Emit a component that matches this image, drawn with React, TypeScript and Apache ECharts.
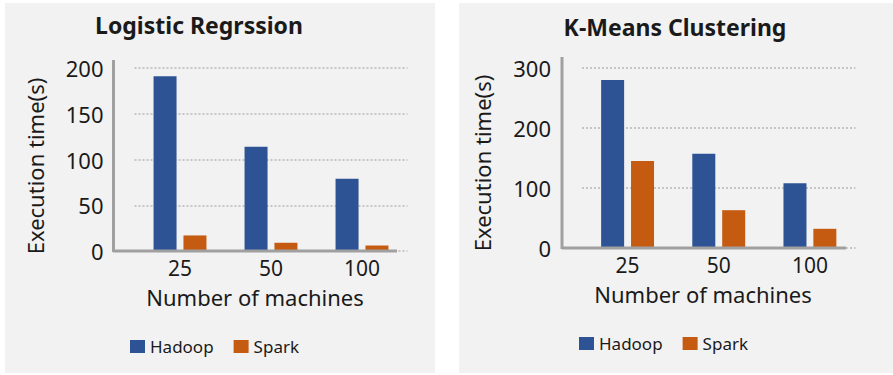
import React, { useEffect, useRef } from "react";
import * as echarts from "echarts";

const categories = ["25", "50", "100"];
const lrHadoop = [191, 114, 79];
const lrSpark = [17, 9, 6];
const kmHadoop = [280, 157, 108];
const kmSpark = [145, 63, 32];
const lrTicks = { min: 0, max: 200, interval: 50 };
const kmTicks = { min: 0, max: 300, interval: 100 };

const FONT = "'Noto Sans', sans-serif";
const BLUE = "#2e5395";
const ORANGE = "#c55a11";
const TXT = "#1a1a1a";
const AXIS = "#a0a0a0";

export default function App() {
  const ref = useRef<HTMLDivElement>(null);
  useEffect(() => {
    if (!ref.current) return;
    const chart = echarts.init(ref.current, undefined, { renderer: "svg" });
    const yAxisBase = (t: any, gi: number) => ({
      type: "value",
      gridIndex: gi,
      min: t.min,
      max: t.max,
      interval: t.interval,
      axisLine: { show: false },
      axisTick: { show: false },
      axisLabel: { color: TXT, fontSize: 22, fontFamily: FONT, margin: 31 },
      splitLine: { show: true, lineStyle: { color: "#b8b8b8", type: [2, 2], width: 1.5 } },
    });
    const xAxisBase = (gi: number) => ({
      type: "category",
      gridIndex: gi,
      data: categories,
      axisLine: { show: false },
      axisTick: { show: false },
      axisLabel: { color: TXT, fontSize: 21, fontFamily: FONT, margin: 6, lineHeight: 21 },
    });
    const bar = (name: string, data: number[], color: string, gi: number) => ({
      type: "bar",
      name,
      data,
      xAxisIndex: gi,
      yAxisIndex: gi,
      barWidth: 23,
      barGap: "30%",
      itemStyle: { color },
    });
    const txt = (text: string, x: number, y: number, size: number, opts: any = {}) => ({
      type: "text",
      x,
      y,
      rotation: opts.rotation || 0,
      z: 10,
      style: {
        text,
        fill: TXT,
        font: `${opts.bold ? "bold " : ""}${size}px ${FONT}`,
        align: "center",
        verticalAlign: "middle",
      },
    });
    const line = (x1: number, y1: number, x2: number, y2: number) => ({
      type: "line",
      z: 5,
      shape: { x1, y1, x2, y2 },
      style: { stroke: AXIS, lineWidth: 3 },
    });
    const legend = (left: number, top: number) => ({
      left,
      top,
      itemWidth: 15,
      itemHeight: 13,
      itemGap: 20,
      icon: "rect",
      data: ["Hadoop", "Spark"],
      textStyle: { color: TXT, fontSize: 17, fontFamily: FONT },
    });
    chart.setOption({
      animation: false,
      backgroundColor: "#ffffff",
      grid: [
        { left: 134.5, width: 273, top: 68, height: 183 },
        { left: 582, width: 273.5, top: 68, height: 180 },
      ],
      xAxis: [xAxisBase(0), xAxisBase(1)],
      yAxis: [yAxisBase(lrTicks, 0), yAxisBase(kmTicks, 1)],
      legend: [legend(125, 333), legend(574, 330)],
      series: [
        bar("Hadoop", lrHadoop, BLUE, 0),
        bar("Spark", lrSpark, ORANGE, 0),
        bar("Hadoop", kmHadoop, BLUE, 1),
        bar("Spark", kmSpark, ORANGE, 1),
      ],
      graphic: [
        { type: "rect", z: -10, shape: { x: 5, y: 3, width: 430, height: 370 }, style: { fill: "#f2f2f2" }, silent: true },
        { type: "rect", z: -10, shape: { x: 459, y: 3, width: 434, height: 370 }, style: { fill: "#f2f2f2" }, silent: true },
        line(113.5, 60, 113.5, 252),
        line(113, 251, 397, 251),
        line(562, 57, 562, 249),
        line(562, 248, 846, 248),
        txt("Logistic Regrssion", 199, 25, 23, { bold: true }),
        txt("K-Means Clustering", 675, 27, 23, { bold: true }),
        txt("Number of machines", 255, 297, 22),
        txt("Number of machines", 703, 294, 22),
        txt("Execution time(s)", 35, 166, 22, { rotation: Math.PI / 2 }),
        txt("Execution time(s)", 482, 163, 22, { rotation: Math.PI / 2 }),
      ],
    });
    return () => chart.dispose();
  }, []);
  return (
    <div
      ref={ref}
      style={{ position: "fixed", left: 0, top: 0, width: 893, height: 375 }}
    />
  );
}
